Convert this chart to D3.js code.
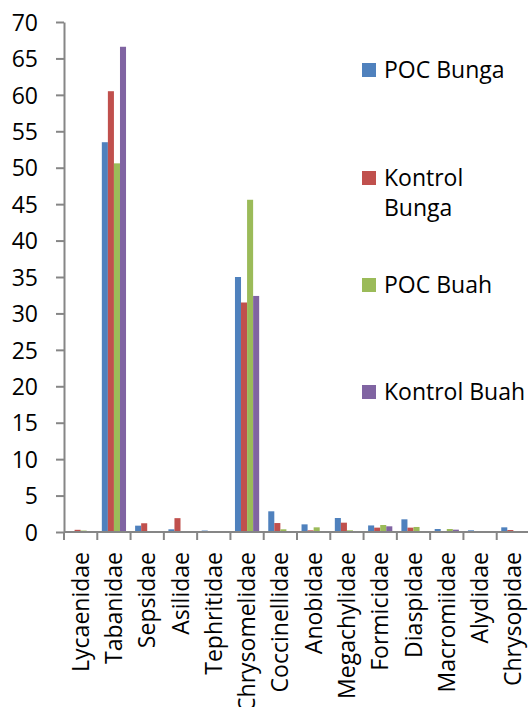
<!DOCTYPE html>
<html>
<head>
<meta charset="utf-8">
<script src="https://cdn.jsdelivr.net/npm/d3@7"></script>
<style>
  body { margin: 0; background: #fff; }
  text { font-family: "Open Sans", sans-serif; fill: #000; }
</style>
</head>
<body>
<svg id="chart" width="528" height="707"></svg>
<script>
// data
var categories = ["Lycaenidae", "Tabanidae", "Sepsidae", "Asilidae", "Tephritidae",
  "Chrysomelidae", "Coccinellidae", "Anobidae", "Megachylidae", "Formicidae",
  "Diaspidae", "Macromiidae", "Alydidae", "Chrysopidae"];
var seriesNames = ["POC Bunga", "Kontrol Bunga", "POC Buah", "Kontrol Buah"];
var pocBunga     = [0,   53.5, 0.87, 0.37, 0.2, 35.0, 2.84, 1.05, 1.92, 0.9,  1.74, 0.41, 0.23, 0.64];
var kontrolBunga = [0.3, 60.5, 1.2,  1.9,  0,   31.5, 1.23, 0.23, 1.28, 0.6,  0.6,  0,    0,    0.27];
var pocBuah      = [0.2, 50.6, 0,    0,    0,   45.6, 0.37, 0.64, 0.23, 0.96, 0.69, 0.41, 0,    0];
var kontrolBuah  = [0,   66.6, 0,    0,    0,   32.4, 0,    0,    0,    0.78, 0,    0.32, 0,    0];
var yTicks = [0, 5, 10, 15, 20, 25, 30, 35, 40, 45, 50, 55, 60, 65, 70];
var colors = ["#4F81BD", "#C0504D", "#9BBB59", "#8064A2"];

var allSeries = [pocBunga, kontrolBunga, pocBuah, kontrolBuah];
var svg = d3.select("#chart");

var plotLeft = 64, plotRight = 530, plotTop = 22, plotBottom = 532;
var axisColor = "#868686";
var fontSize = "23px";

var x = d3.scaleBand().domain(categories).range([plotLeft, plotRight]).padding(0);
var xs = d3.scaleBand().domain(seriesNames).range([0, x.bandwidth()])
  .paddingInner(0).paddingOuter(0.75);
var y = d3.scaleLinear().domain([0, 70]).range([plotBottom, plotTop]);

// bars
var groups = svg.selectAll("g.cat")
  .data(categories)
  .enter()
  .append("g")
  .attr("class", "cat")
  .attr("transform", function (d) { return "translate(" + x(d) + ",0)"; });

groups.selectAll("rect")
  .data(function (d, i) {
    return seriesNames.map(function (s, j) {
      return { series: s, value: allSeries[j][i], color: colors[j] };
    }).filter(function (b) { return b.value > 0; });
  })
  .enter()
  .append("rect")
  .attr("x", function (d) { return xs(d.series); })
  .attr("width", xs.bandwidth())
  .attr("y", function (d) { return y(d.value); })
  .attr("height", function (d) { return plotBottom - y(d.value); })
  .attr("fill", function (d) { return d.color; });

// y axis
var yAxis = svg.append("g")
  .attr("transform", "translate(" + plotLeft + ",0)")
  .call(d3.axisLeft(y).tickValues(yTicks).tickSize(8).tickPadding(18).tickSizeOuter(0));
yAxis.select(".domain").attr("stroke", axisColor).attr("stroke-width", 2);
yAxis.selectAll(".tick line").attr("stroke", axisColor).attr("stroke-width", 2);
yAxis.selectAll(".tick text")
  .style("font-size", fontSize)
  .style("font-family", "'Open Sans', sans-serif")
  .attr("fill", "#000")
  .attr("dy", "0.36em");

// x axis line + ticks at category boundaries
svg.append("line")
  .attr("x1", plotLeft).attr("x2", 528)
  .attr("y1", plotBottom).attr("y2", plotBottom)
  .attr("stroke", axisColor).attr("stroke-width", 2);
svg.selectAll("line.xtick")
  .data(categories)
  .enter()
  .append("line")
  .attr("class", "xtick")
  .attr("x1", function (d) { return x(d); })
  .attr("x2", function (d) { return x(d); })
  .attr("y1", plotBottom).attr("y2", plotBottom + 8)
  .attr("stroke", axisColor).attr("stroke-width", 2);

// category labels
svg.selectAll("text.cat")
  .data(categories)
  .enter()
  .append("text")
  .attr("class", "cat")
  .attr("transform", function (d) {
    return "translate(" + (x(d) + x.bandwidth() / 2) + ",552) rotate(-90)";
  })
  .attr("text-anchor", "end")
  .attr("y", 8)
  .style("font-size", fontSize)
  .text(function (d) { return d; });

// legend
var legendY = [70, 178, 285, 392];
var legendLines = [["POC Bunga"], ["Kontrol", "Bunga"], ["POC Buah"], ["Kontrol Buah"]];
var legend = svg.selectAll("g.legend")
  .data(seriesNames)
  .enter()
  .append("g")
  .attr("class", "legend")
  .attr("transform", function (d, i) { return "translate(362," + legendY[i] + ")"; });
legend.append("rect")
  .attr("x", 0).attr("y", -7)
  .attr("width", 14).attr("height", 14)
  .attr("fill", function (d, i) { return colors[i]; });
legend.append("text")
  .attr("x", 22)
  .attr("y", 8)
  .style("font-size", fontSize)
  .selectAll("tspan")
  .data(function (d, i) { return legendLines[i]; })
  .enter()
  .append("tspan")
  .attr("x", 22)
  .attr("dy", function (d, k) { return k === 0 ? 0 : 30; })
  .text(function (d) { return d; });
</script>
</body>
</html>
